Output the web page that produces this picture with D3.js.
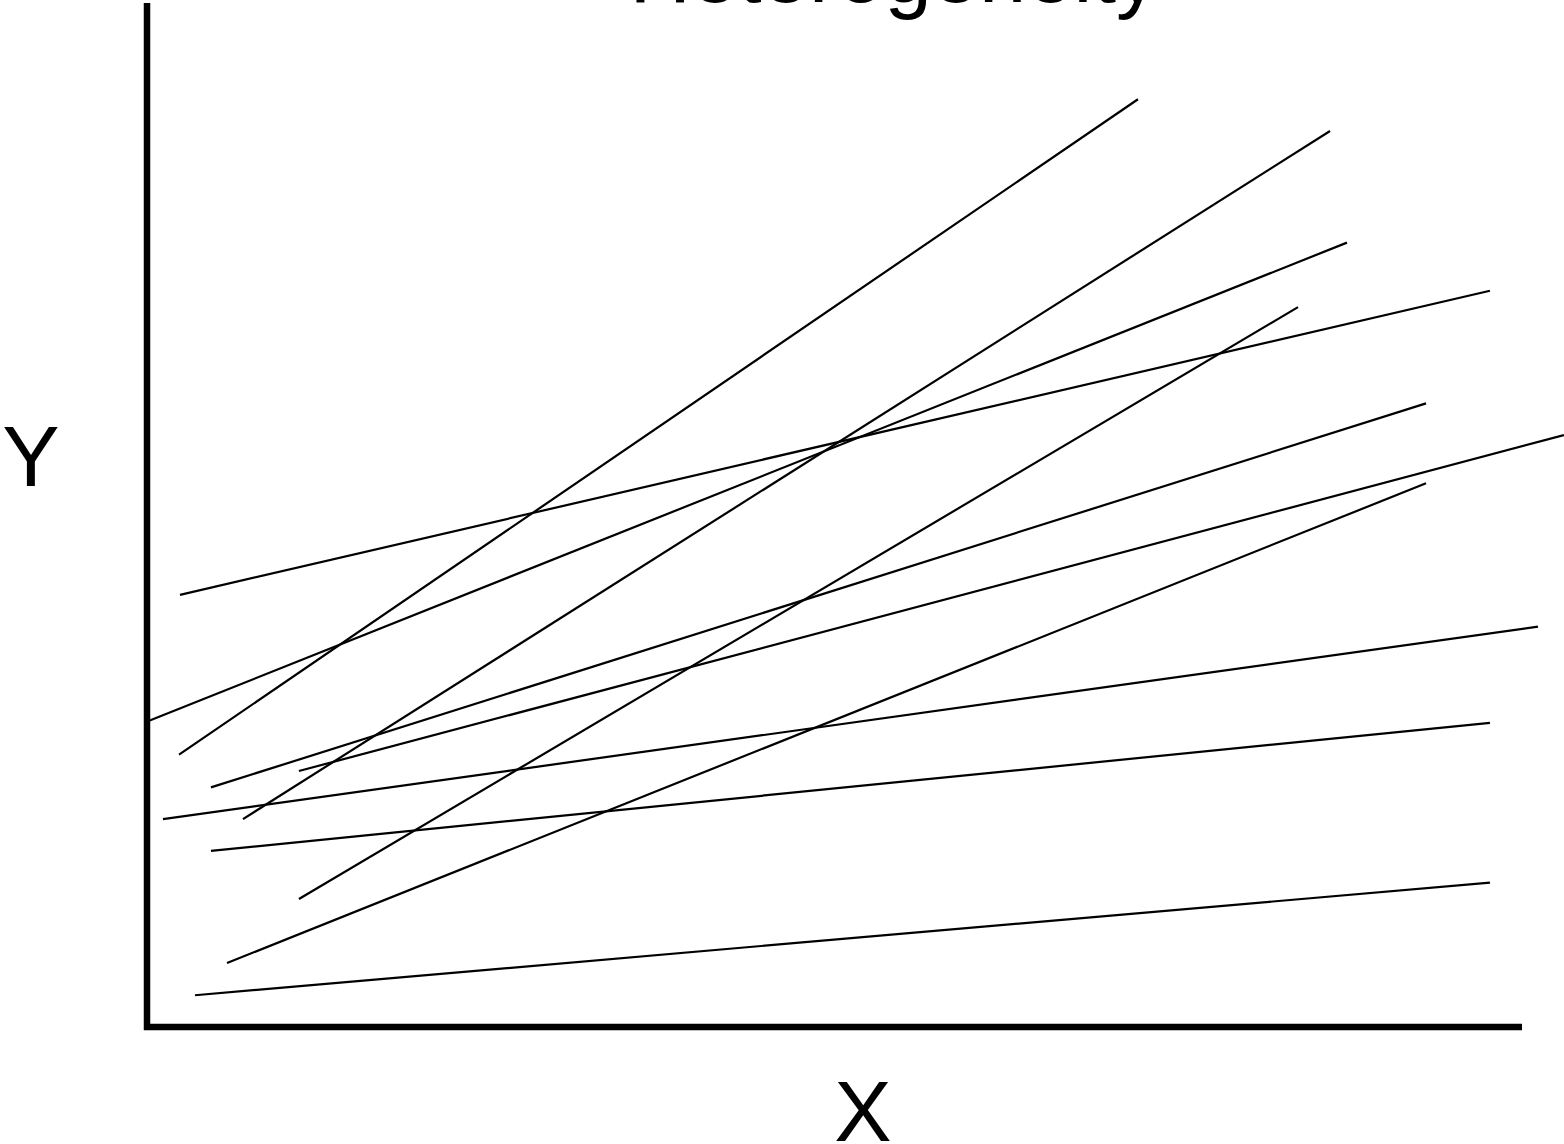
<!DOCTYPE html>
<html>
<head>
<meta charset="utf-8">
<script src="https://cdn.jsdelivr.net/npm/d3@7"></script>
<style>
  html, body { margin: 0; padding: 0; background: #fff; overflow: hidden; }
  svg { display: block; }
  text { font-family: "Liberation Sans", Arial, sans-serif; fill: #000; }
</style>
</head>
<body>
<script>
// ---- Data (abstract units: X and Y from 0 to 100) ----
const lineIds = ["L1","L2","L3","L4","L5","L6","L7","L8","L9","L10","L11"];
const startX = [2.4, 0.15, 2.33, 6.98, 4.65, 11.05, 11.05, 5.82, 1.16, 4.65, 3.49];
const startY = [42.2, 29.9, 26.6, 20.3, 23.4, 25.0, 12.5, 6.25, 20.3, 17.2, 3.1];
const endX   = [97.67, 87.27, 72.07, 86.04, 93.02, 103.05, 83.71, 93.02, 101.16, 97.67, 97.67];
const endY   = [71.9, 76.6, 90.6, 87.5, 60.9, 57.8, 70.3, 53.1, 39.1, 29.7, 14.1];
const titleText = "Heterogeneity";
const xLabel = "X";
const yLabel = "Y";

const W = 1564, H = 1144;
const svg = d3.select("body").append("svg").attr("width", W).attr("height", H);

const x = d3.scaleLinear().domain([0, 100]).range([147, 1522]);
const y = d3.scaleLinear().domain([0, 100]).range([1027, 3]);

const segs = lineIds.map((id, i) => ({
  id, pts: [[startX[i], startY[i]], [endX[i], endY[i]]]
}));

const lineGen = d3.line().x(d => x(d[0])).y(d => y(d[1]));

svg.append("g").selectAll("path").data(segs).join("path")
  .attr("d", d => lineGen(d.pts))
  .attr("fill", "none")
  .attr("stroke", "#000")
  .attr("stroke-width", 2.2);

// axes (plain frame lines, no ticks)
svg.append("path")
  .attr("d", lineGen([[0, 100], [0, 0], [100, 0]]))
  .attr("fill", "none")
  .attr("stroke", "#000")
  .attr("stroke-width", 6.5)
  .attr("stroke-linejoin", "miter");

svg.append("text")
  .attr("x", 894).attr("y", 2)
  .attr("text-anchor", "middle")
  .attr("font-size", 85)
  .text(titleText);

svg.append("text")
  .attr("x", 31).attr("y", 486)
  .attr("text-anchor", "middle")
  .attr("font-size", 86)
  .text(yLabel);

svg.append("text")
  .attr("x", 863).attr("y", 1141)
  .attr("text-anchor", "middle")
  .attr("font-size", 86)
  .text(xLabel);
</script>
</body>
</html>
